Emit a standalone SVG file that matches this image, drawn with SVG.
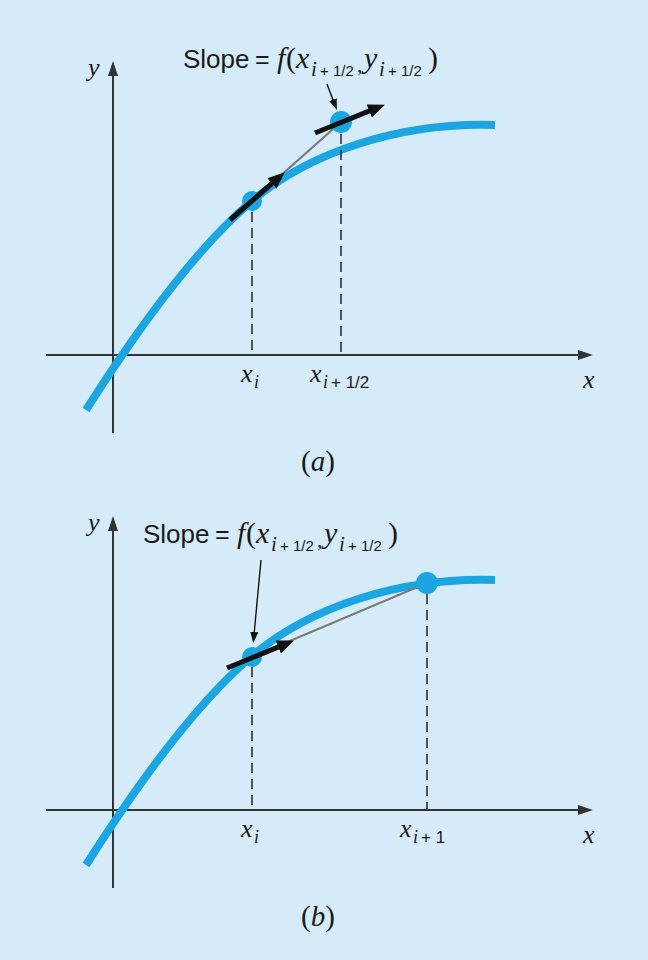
<svg xmlns="http://www.w3.org/2000/svg" width="648" height="960" viewBox="0 0 648 960">
<defs>
<style>
.axis{stroke:#333;stroke-width:2;fill:none}
.curve{stroke:#1ba6e2;stroke-width:8;fill:none}
.dot{fill:#1ba6e2}
.dash{stroke:#333;stroke-width:1.6;stroke-dasharray:10 6;fill:none}
.chord{stroke:#7a7a7a;stroke-width:2.2;fill:none}
.slope{stroke:#111;stroke-width:5;fill:none}
.ptr{stroke:#111;stroke-width:1.4;fill:none}
.sans{font-family:"Liberation Sans",Arial,sans-serif;fill:#1a1a1a}
.ser{font-family:"Liberation Serif","Times New Roman",serif;fill:#1a1a1a}
.it{font-style:italic}
</style>
<marker id="axhead" markerUnits="userSpaceOnUse" markerWidth="16" markerHeight="10" refX="10" refY="5" orient="auto">
<path d="M0,0 L15,5 L0,10 z" fill="#333"/>
</marker>
<marker id="bighead" markerUnits="userSpaceOnUse" markerWidth="18" markerHeight="14" refX="7" refY="7" orient="auto">
<path d="M0,0 L17,7 L0,14 z" fill="#111"/>
</marker>
<marker id="smallhead" markerUnits="userSpaceOnUse" markerWidth="12" markerHeight="8" refX="4" refY="4" orient="auto">
<path d="M0,0 L11,4 L0,8 z" fill="#111"/>
</marker>
<path id="fn" d="M86,410 C140,325 200,245 252,201 C310,152 400,122 495,125"/>
</defs>
<rect x="0" y="0" width="648" height="960" fill="#d6ebf9"/>

<g id="panel-a">
<g id="axes-a">
<line class="axis" x1="113" y1="433" x2="113" y2="66" marker-end="url(#axhead)"/>
<line class="axis" x1="46" y1="355" x2="588" y2="355" marker-end="url(#axhead)"/>
</g>
<g id="curve-a"><use href="#fn" class="curve"/></g>
<g id="connectors-a">
<line class="dash" x1="252" y1="212" x2="252" y2="355"/>
<line class="dash" x1="341" y1="134" x2="341" y2="355"/>
<line class="chord" x1="252" y1="201" x2="341" y2="122"/>
</g>
<g id="point-xi-a"><circle class="dot" cx="252" cy="201" r="10"/></g>
<g id="point-xhalf-a"><circle class="dot" cx="341" cy="122" r="11"/></g>
<g id="slopes-a">
<line class="slope" x1="230" y1="220" x2="277.2" y2="178.9" marker-end="url(#bighead)"/>
<line class="slope" x1="315" y1="133" x2="375.7" y2="108.4" marker-end="url(#bighead)"/>
<line class="ptr" x1="327" y1="84" x2="334.4" y2="103.4" marker-end="url(#smallhead)"/>
</g>
<g id="labels-a">
<text class="ser it" x="88" y="76" font-size="26">y</text>
<text class="ser it" x="583" y="388" font-size="26">x</text>
<text class="ser it" x="241" y="382" font-size="26">x</text>
<text class="ser it" x="254" y="388" font-size="18">i</text>
<text class="ser it" x="310" y="382" font-size="26">x</text>
<text class="ser it" x="323" y="388" font-size="18">i</text>
<text class="sans" x="331" y="388" font-size="17">+ 1/2</text>
<text class="sans" x="183" y="68" font-size="26">Slope</text>
<text class="sans" x="255" y="68" font-size="25">=</text>
<text class="ser it" x="277" y="68" font-size="30">f</text>
<text class="ser" x="286" y="68" font-size="30">(</text>
<text class="ser it" x="296" y="68" font-size="30">x</text>
<text class="ser it" x="311" y="76" font-size="21">i</text>
<text class="sans" x="320" y="76" font-size="15">+ 1/2</text>
<text class="ser" x="357" y="72" font-size="22">,</text>
<text class="ser it" x="364" y="68" font-size="30">y</text>
<text class="ser it" x="379" y="76" font-size="21">i</text>
<text class="sans" x="388" y="76" font-size="15">+ 1/2</text>
<text class="ser" x="428" y="68" font-size="30">)</text>
<text class="ser" x="318" y="471" font-size="29" text-anchor="middle">(<tspan class="it">a</tspan>)</text>
</g>
</g>

<g id="panel-b">
<g id="axes-b">
<line class="axis" x1="113" y1="888" x2="113" y2="521" marker-end="url(#axhead)"/>
<line class="axis" x1="46" y1="810" x2="588" y2="810" marker-end="url(#axhead)"/>
</g>
<g id="curve-b"><use href="#fn" class="curve" transform="translate(0,455)"/></g>
<g id="connectors-b">
<line class="dash" x1="252" y1="667" x2="252" y2="810"/>
<line class="dash" x1="427" y1="594" x2="427" y2="810"/>
<line class="chord" x1="252" y1="657" x2="427" y2="583"/>
</g>
<g id="point-xi-b"><circle class="dot" cx="252" cy="657" r="10"/></g>
<g id="point-xnext-b"><circle class="dot" cx="427" cy="583" r="11"/></g>
<g id="slopes-b">
<line class="slope" x1="227" y1="668" x2="284.7" y2="644.4" marker-end="url(#bighead)"/>
<line class="ptr" x1="261" y1="560" x2="253.9" y2="636" marker-end="url(#smallhead)"/>
</g>
<g id="labels-b">
<text class="ser it" x="88" y="531" font-size="26">y</text>
<text class="ser it" x="583" y="843" font-size="26">x</text>
<text class="ser it" x="241" y="837" font-size="26">x</text>
<text class="ser it" x="254" y="843" font-size="18">i</text>
<text class="ser it" x="400" y="837" font-size="26">x</text>
<text class="ser it" x="413" y="843" font-size="18">i</text>
<text class="sans" x="421" y="843" font-size="17">+ 1</text>
<text class="sans" x="143" y="543" font-size="26">Slope</text>
<text class="sans" x="215" y="543" font-size="25">=</text>
<text class="ser it" x="237" y="543" font-size="30">f</text>
<text class="ser" x="246" y="543" font-size="30">(</text>
<text class="ser it" x="256" y="543" font-size="30">x</text>
<text class="ser it" x="271" y="551" font-size="21">i</text>
<text class="sans" x="280" y="551" font-size="15">+ 1/2</text>
<text class="ser" x="317" y="547" font-size="22">,</text>
<text class="ser it" x="324" y="543" font-size="30">y</text>
<text class="ser it" x="339" y="551" font-size="21">i</text>
<text class="sans" x="348" y="551" font-size="15">+ 1/2</text>
<text class="ser" x="388" y="543" font-size="30">)</text>
<text class="ser" x="318" y="926" font-size="29" text-anchor="middle">(<tspan class="it">b</tspan>)</text>
</g>
</g>
</svg>
